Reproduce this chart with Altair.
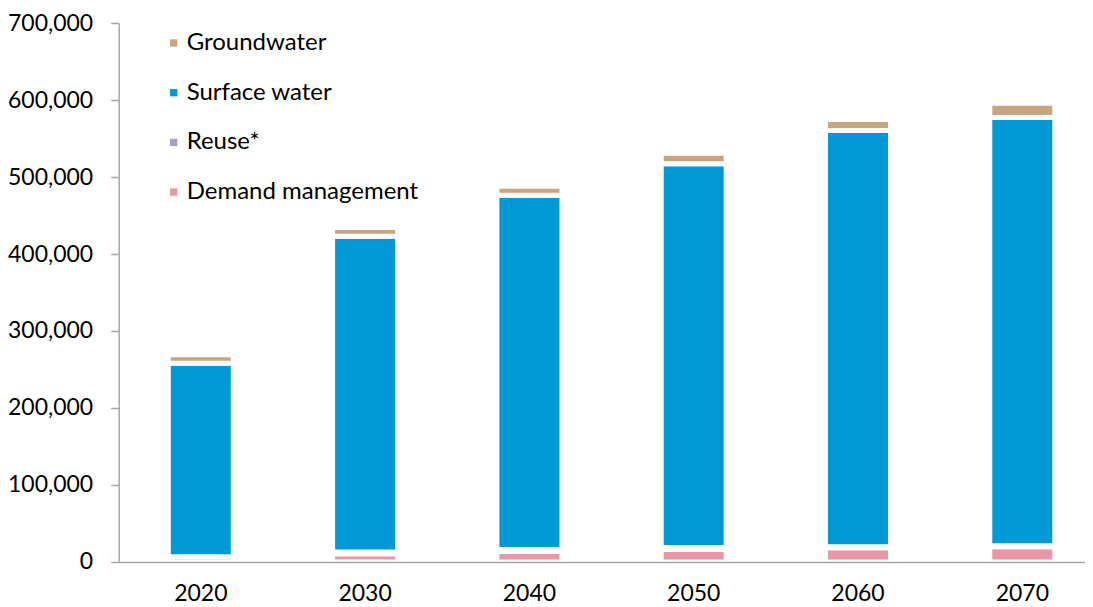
import altair as alt
import pandas as pd

years = ["2020", "2030", "2040", "2050", "2060", "2070"]
demand_management = [0, 10700, 13600, 16200, 18500, 19800]
reuse = [6800, 2200, 2600, 2600, 1300, 1300]
surface_water = [251200, 410100, 460000, 498400, 540700, 556300]
groundwater = [11300, 11300, 11700, 13600, 14100, 18400]

series_names = ["Groundwater", "Surface water", "Reuse*", "Demand management"]
series_colors = ["#c8a57f", "#0098d6", "#a99ec9", "#e996a6"]
stack_pos = {"Demand management": 0, "Reuse*": 1, "Surface water": 2, "Groundwater": 3}

rows = []
for i, y in enumerate(years):
    for name, vals in [("Demand management", demand_management), ("Reuse*", reuse),
                       ("Surface water", surface_water), ("Groundwater", groundwater)]:
        rows.append({"year": y, "source": name, "value": vals[i], "pos": stack_pos[name]})
df = pd.DataFrame(rows)

FONT = "Lato"
AXIS_GRAY = "#a6a6a6"

chart = alt.Chart(df).mark_bar(stroke="white", strokeWidth=5).encode(
    x=alt.X("year:N", sort=years,
            scale=alt.Scale(paddingInner=0.6044, paddingOuter=0.242, align=0.624),
            axis=alt.Axis(title=None, labelAngle=0, ticks=False, tickSize=0, labelPadding=21,
                          labelFontSize=23, labelFont=FONT, labelColor="black",
                          domainColor=AXIS_GRAY, domainWidth=1.5, zindex=1)),
    y=alt.Y("value:Q", stack="zero",
            scale=alt.Scale(domain=[0, 700000], nice=False),
            axis=alt.Axis(title=None, values=[0, 100000, 200000, 300000, 400000, 500000, 600000, 700000],
                          format=",.0f", grid=False, tickSize=8, labelPadding=18,
                          labelFontSize=23, labelFont=FONT, labelColor="black",
                          domainColor=AXIS_GRAY, tickColor=AXIS_GRAY, domainWidth=1.5, tickWidth=1.5,
                          zindex=1)),
    color=alt.Color("source:N",
                    scale=alt.Scale(domain=series_names, range=series_colors),
                    legend=alt.Legend(title=None, orient="none", legendX=43, legendY=8,
                                      symbolType="square", symbolSize=54, symbolStrokeWidth=0,
                                      labelFontSize=24, labelFont=FONT, labelColor="black",
                                      labelOffset=1, rowPadding=25.7, labelLimit=500)),
    order=alt.Order("pos:Q", sort="ascending"),
).properties(
    width=966, height=539,
    padding={"left": 110.7, "top": 15, "right": 0, "bottom": 46},
    autosize="none",
).configure_view(stroke=None)

chart.save("out.html", embed_options={"renderer": "svg", "actions": False})
